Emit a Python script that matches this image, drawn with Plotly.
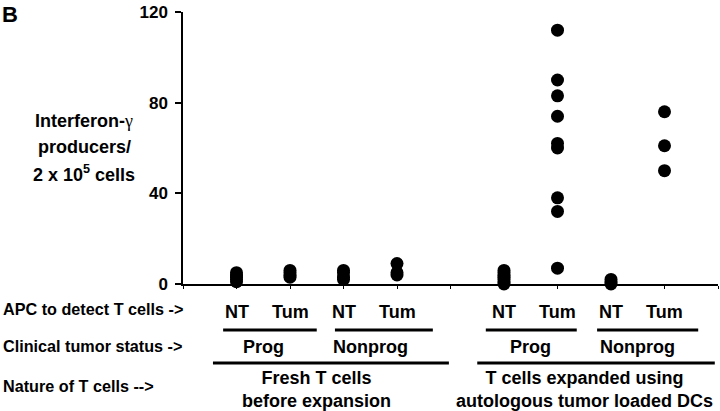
import plotly.graph_objects as go

# ---- data ----
positions = [1, 2, 3, 4, 6, 7, 8, 9]
apc_labels = ["NT", "Tum", "NT", "Tum", "NT", "Tum", "NT", "Tum"]
values = [
    [1, 2, 3, 4, 5],                       # fresh, Prog, NT
    [3, 4, 5, 6],                          # fresh, Prog, Tum
    [2, 3, 5, 6],                          # fresh, Nonprog, NT
    [4, 5, 9],                             # fresh, Nonprog, Tum
    [0, 1, 2, 3, 4, 5, 6],                 # expanded, Prog, NT
    [7, 32, 38, 60, 62, 74, 83, 90, 112],  # expanded, Prog, Tum
    [0, 1, 2],                             # expanded, Nonprog, NT
    [50, 61, 76],                          # expanded, Nonprog, Tum
]
status_labels = ["Prog", "Nonprog", "Prog", "Nonprog"]
status_centers = [1.5, 3.5, 6.5, 8.5]
nature_labels = ["Fresh T cells<br>before expansion",
                 "T cells expanded using<br>autologous tumor loaded DCs"]
nature_centers = [2.5, 7.5]
y_ticks = [0, 40, 80, 120]
row_titles = ["APC to detect T cells ->", "Clinical tumor status ->",
              "Nature of T cells -->"]
y_title_lines = ["Interferon-<span style='font-family:Liberation Serif;font-weight:normal'>γ</span>",
                 "producers/", "2 x 10<sup>5</sup> cells"]

FONT = "Arial, Liberation Sans, sans-serif"

xs, ys = [], []
for p, vals in zip(positions, values):
    for v in vals:
        xs.append(p)
        ys.append(v)

fig = go.Figure()
fig.add_trace(go.Scatter(
    x=xs, y=ys, mode="markers",
    marker=dict(color="black", size=13, line=dict(width=0)),
    cliponaxis=False, showlegend=False, hoverinfo="skip",
))

# plot area: x 183..718 px, y 12..284 px
W, H = 720, 411
L, R, T, B = 183, 2, 12, 127
ph = H - T - B
pw = W - L - R


def py(pix):
    return (H - B - pix) / ph


def px(pix):
    return (pix - L) / pw


def bold(size):
    return dict(size=size, family=FONT, color="black", weight="bold")


ann = []
for p, lab in zip(positions, apc_labels):
    ann.append(dict(x=p, y=py(312), xref="x", yref="paper", text=lab,
                    showarrow=False, xanchor="center", yanchor="middle",
                    font=bold(18)))
for c, lab in zip(status_centers, status_labels):
    ann.append(dict(x=c, y=py(347), xref="x", yref="paper", text=lab,
                    showarrow=False, xanchor="center", yanchor="middle",
                    font=bold(18)))
for c, lab in zip(nature_centers, nature_labels):
    ann.append(dict(x=c, y=py(389), xref="x", yref="paper", text=lab,
                    showarrow=False, xanchor="center", yanchor="middle",
                    font=bold(18)))
for yy, lab in zip([309, 346, 386], row_titles):
    ann.append(dict(x=px(1), y=py(yy), xref="paper", yref="paper", text=lab,
                    showarrow=False, xanchor="left", yanchor="middle",
                    font=bold(16.2)))
for yy, lab in zip([121, 147, 173], y_title_lines):
    ann.append(dict(x=px(84), y=py(yy), xref="paper", yref="paper", text=lab,
                    showarrow=False, xanchor="center", yanchor="middle",
                    font=bold(18)))
ann.append(dict(x=px(0), y=py(0), xref="paper", yref="paper", text="B",
                showarrow=False, xanchor="left", yanchor="top",
                font=bold(22)))

shapes = []
lines1 = [(0.75, 2.5), (2.84, 4.67), (5.66, 7.36), (7.74, 9.63)]
lines2 = [(0.56, 4.97), (5.5, 9.94)]
for a, b in lines1:
    shapes.append(dict(type="line", xref="x", yref="paper", x0=a, x1=b,
                       y0=py(330), y1=py(330), line=dict(color="black", width=3)))
for a, b in lines2:
    shapes.append(dict(type="line", xref="x", yref="paper", x0=a, x1=b,
                       y0=py(363), y1=py(363), line=dict(color="black", width=3)))

fig.update_layout(
    width=W, height=H,
    margin=dict(l=L, r=R, t=T, b=B, pad=0),
    paper_bgcolor="white", plot_bgcolor="white",
    annotations=ann, shapes=shapes,
    font=dict(family=FONT, color="black"),
    hovermode=False,
    xaxis=dict(range=[0, 10], tickvals=list(range(0, 11)), showticklabels=False,
               ticks="outside", ticklen=3, tickwidth=1, tickcolor="black",
               showline=True, linecolor="black", linewidth=1.5,
               showgrid=False, zeroline=False, fixedrange=True),
    yaxis=dict(range=[0, 120], tickvals=y_ticks, ticks="outside", ticklen=6,
               tickwidth=1.5, tickcolor="black", ticklabelstandoff=4,
               tickfont=bold(17), automargin=False,
               showline=True, linecolor="black", linewidth=1.5,
               showgrid=False, zeroline=False, fixedrange=True),
)

fig.write_html("out.html", config={"displayModeBar": False},
               post_script="document.body.style.margin='0';")
